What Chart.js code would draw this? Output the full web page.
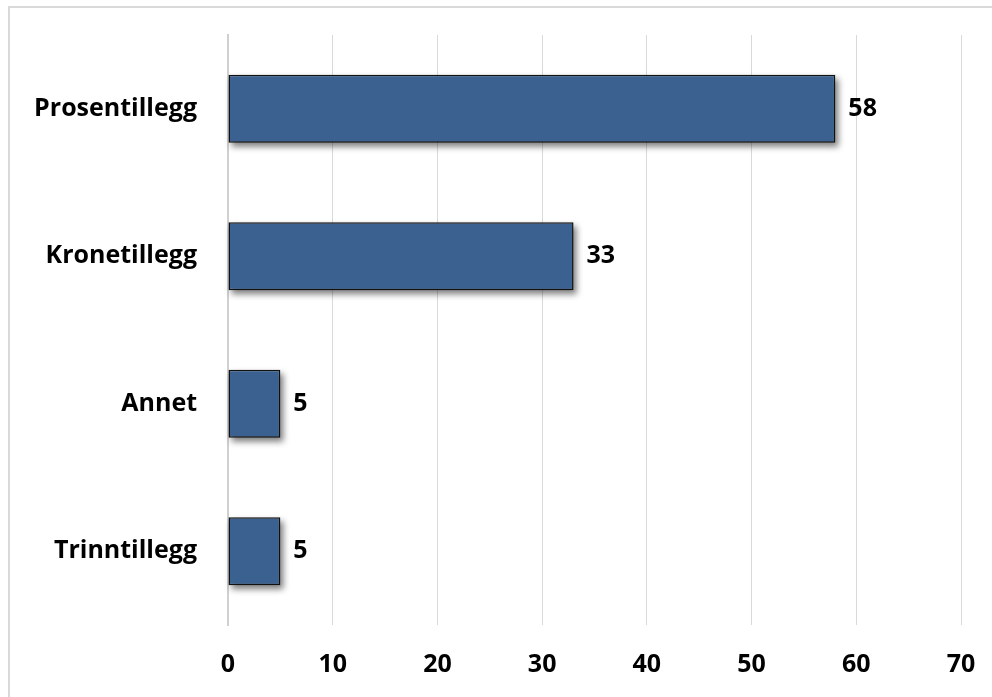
<!DOCTYPE html>
<html>
<head>
<meta charset="utf-8">
<script src="https://cdn.jsdelivr.net/npm/chart.js@4"></script>
<style>
  html, body { margin: 0; padding: 0; background: #ffffff; }
  #wrap { width: 992px; height: 697px; position: relative; }
</style>
</head>
<body>
<div id="wrap"><canvas id="chart"></canvas></div>
<script>
// Data
const categories = ['Prosentillegg', 'Kronetillegg', 'Annet', 'Trinntillegg'];
const values = [58, 33, 5, 5];
const xTicks = [0, 10, 20, 30, 40, 50, 60, 70];

const labelFont = { family: '"Open Sans", Lato, sans-serif', size: 25, weight: 'bold' };

// Light grey frame around the chart
const framePlugin = {
  id: 'frame',
  beforeDraw(chart) {
    const ctx = chart.ctx;
    ctx.save();
    ctx.strokeStyle = '#d9d9d9';
    ctx.lineWidth = 2;
    ctx.strokeRect(9, 7, chart.width + 20, chart.height + 20);
    ctx.restore();
  }
};

// Blurred drop shadow painted under each bar
const shadowPlugin = {
  id: 'barShadow',
  beforeDatasetsDraw(chart) {
    const ctx = chart.ctx;
    const meta = chart.getDatasetMeta(0);
    ctx.save();
    ctx.filter = 'blur(3px)';
    ctx.fillStyle = 'rgba(0,0,0,0.5)';
    meta.data.forEach(bar => {
      const top = bar.y - bar.height / 2;
      ctx.fillRect(bar.base + 3, top + 4, bar.x - bar.base, bar.height);
    });
    ctx.restore();
  }
};

// Value labels at the end of each bar
const valueLabels = {
  id: 'valueLabels',
  afterDatasetsDraw(chart) {
    const ctx = chart.ctx;
    const meta = chart.getDatasetMeta(0);
    ctx.save();
    ctx.fillStyle = '#000000';
    ctx.font = `${labelFont.weight} ${labelFont.size}px ${labelFont.family}`;
    ctx.textAlign = 'left';
    ctx.textBaseline = 'middle';
    meta.data.forEach((bar, i) => {
      ctx.fillText(String(values[i]), bar.x + 13, bar.y);
    });
    ctx.restore();
  }
};

new Chart(document.getElementById('chart'), {
  type: 'bar',
  data: {
    labels: categories,
    datasets: [{
      data: values,
      backgroundColor: '#3a6190',
      borderColor: '#111111',
      borderWidth: 1.5,
      borderSkipped: false,
      barPercentage: 0.46,
      categoryPercentage: 1
    }]
  },
  options: {
    indexAxis: 'y',
    responsive: true,
    maintainAspectRatio: false,
    animation: false,
    layout: { padding: { top: 35, right: 31, left: 0, bottom: 0 } },
    plugins: {
      legend: { display: false },
      tooltip: { enabled: false }
    },
    scales: {
      x: {
        min: 0,
        max: 70,
        afterBuildTicks(axis) {
          axis.ticks = xTicks.map(v => ({ value: v }));
        },
        afterFit(axis) {
          axis.height = 72;
          axis.paddingLeft = 0;
          axis.paddingRight = 0;
        },
        grid: { color: '#d9d9d9', lineWidth: 1, drawTicks: false },
        border: { display: false },
        ticks: { color: '#000000', font: labelFont, padding: 25 }
      },
      y: {
        afterFit(axis) {
          axis.width = 228;
          axis.paddingTop = 0;
          axis.paddingBottom = 0;
        },
        grid: { display: false, drawTicks: false },
        border: { display: true, color: '#d0d0d0', width: 2 },
        ticks: { color: '#000000', font: labelFont, padding: 31 }
      }
    }
  },
  plugins: [framePlugin, shadowPlugin, valueLabels]
});
</script>
</body>
</html>
